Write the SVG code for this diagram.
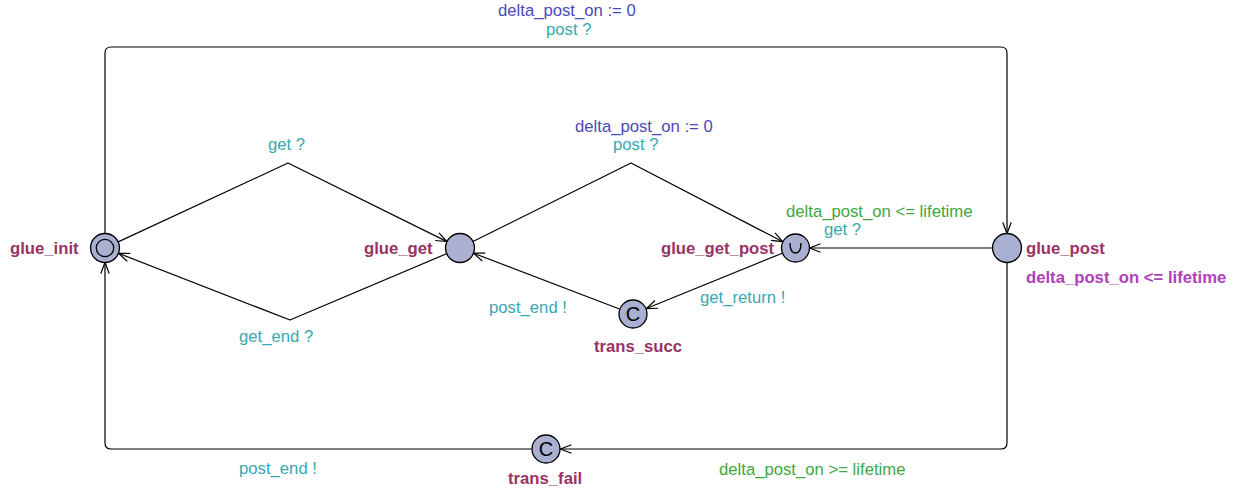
<svg xmlns="http://www.w3.org/2000/svg" width="1238" height="492" viewBox="0 0 1238 492">
<defs>
<marker id="arr" markerUnits="userSpaceOnUse" markerWidth="16" markerHeight="16" refX="0" refY="0" orient="auto" overflow="visible">
<path d="M -11 -4.2 L 0 0 L -11 4.2" fill="none" stroke="#000" stroke-width="1.2"/>
</marker>
</defs>
<style>
text{font-family:"Liberation Sans",Arial,sans-serif;font-size:16.7px}
.nm{font-weight:bold;fill:#993366}
.inv{font-weight:bold;fill:#b040b8}
.upd{fill:#4a4ab8}
.syn{fill:#38a8b0}
.grd{fill:#40a840}
.loc{fill:#a9b0d2;stroke:#000;stroke-width:1.3}
.e{fill:none;stroke:#000;stroke-width:1.2;stroke-linejoin:round;marker-end:url(#arr)}
.sym{font-size:20px;fill:#000}
</style>
<rect width="1238" height="492" fill="#fff"/>
<g id="connectors">
<path class="e" d="M118.2 241.9 L288 163 L447 241.6"/>
<path class="e" d="M446.6 253.7 L290 320 L118.5 253.3"/>
<path class="e" d="M473 241.5 L631 163 L782.8 241.7"/>
<path class="e" d="M992.5 248 L809.5 248"/>
<path class="e" d="M782.3 253.2 L646.4 308.5"/>
<path class="e" d="M619.5 309 L473.5 253.2"/>
<path class="e" d="M105 233.5 L105 53 Q105 47 111 47 L1001 47 Q1007 47 1007 53 L1007 233.5"/>
<path class="e" d="M1007 262.5 L1007 443 Q1007 449 1001 449 L560.5 449"/>
<path class="e" d="M531.5 449 L111 449 Q105 449 105 443 L105 262.5"/>
<text class="upd" x="498" y="16">delta_post_on := 0</text>
<text class="syn" x="546" y="35">post ?</text>
<text class="syn" x="268" y="150">get ?</text>
<text class="upd" x="575" y="132">delta_post_on := 0</text>
<text class="syn" x="613" y="150">post ?</text>
<text class="grd" x="786" y="217">delta_post_on &lt;= lifetime</text>
<text class="syn" x="824" y="235">get ?</text>
<text class="syn" x="489" y="313">post_end !</text>
<text class="syn" x="700" y="303">get_return !</text>
<text class="syn" x="239" y="342">get_end ?</text>
<text class="syn" x="239" y="474">post_end !</text>
<text class="grd" x="719" y="475">delta_post_on &gt;= lifetime</text>
</g>
<g id="glue_init">
<circle class="loc" cx="105" cy="248" r="14.5"/>
<circle cx="105" cy="248" r="8.7" fill="none" stroke="#000" stroke-width="1.3"/>
<text class="nm" x="10" y="254">glue_init</text>
</g>
<g id="glue_get">
<circle class="loc" cx="460" cy="248" r="14.5"/>
<text class="nm" x="364" y="254">glue_get</text>
</g>
<g id="glue_get_post">
<circle class="loc" cx="795.5" cy="248" r="14"/>
<path d="M790 243 Q790 253 795.5 253 Q801 253 801 243" fill="none" stroke="#000" stroke-width="1.4"/>
<text class="nm" x="661" y="254">glue_get_post</text>
</g>
<g id="glue_post">
<circle class="loc" cx="1007" cy="248" r="14.5"/>
<text class="nm" x="1026" y="254">glue_post</text>
<text class="inv" x="1026" y="283">delta_post_on &lt;= lifetime</text>
</g>
<g id="trans_succ">
<circle class="loc" cx="633" cy="314" r="14"/>
<text class="sym" x="633" y="321" text-anchor="middle">C</text>
<text class="nm" x="594" y="352">trans_succ</text>
</g>
<g id="trans_fail">
<circle class="loc" cx="546" cy="449" r="14"/>
<text class="sym" x="546" y="456" text-anchor="middle">C</text>
<text class="nm" x="508" y="484">trans_fail</text>
</g>
</svg>
